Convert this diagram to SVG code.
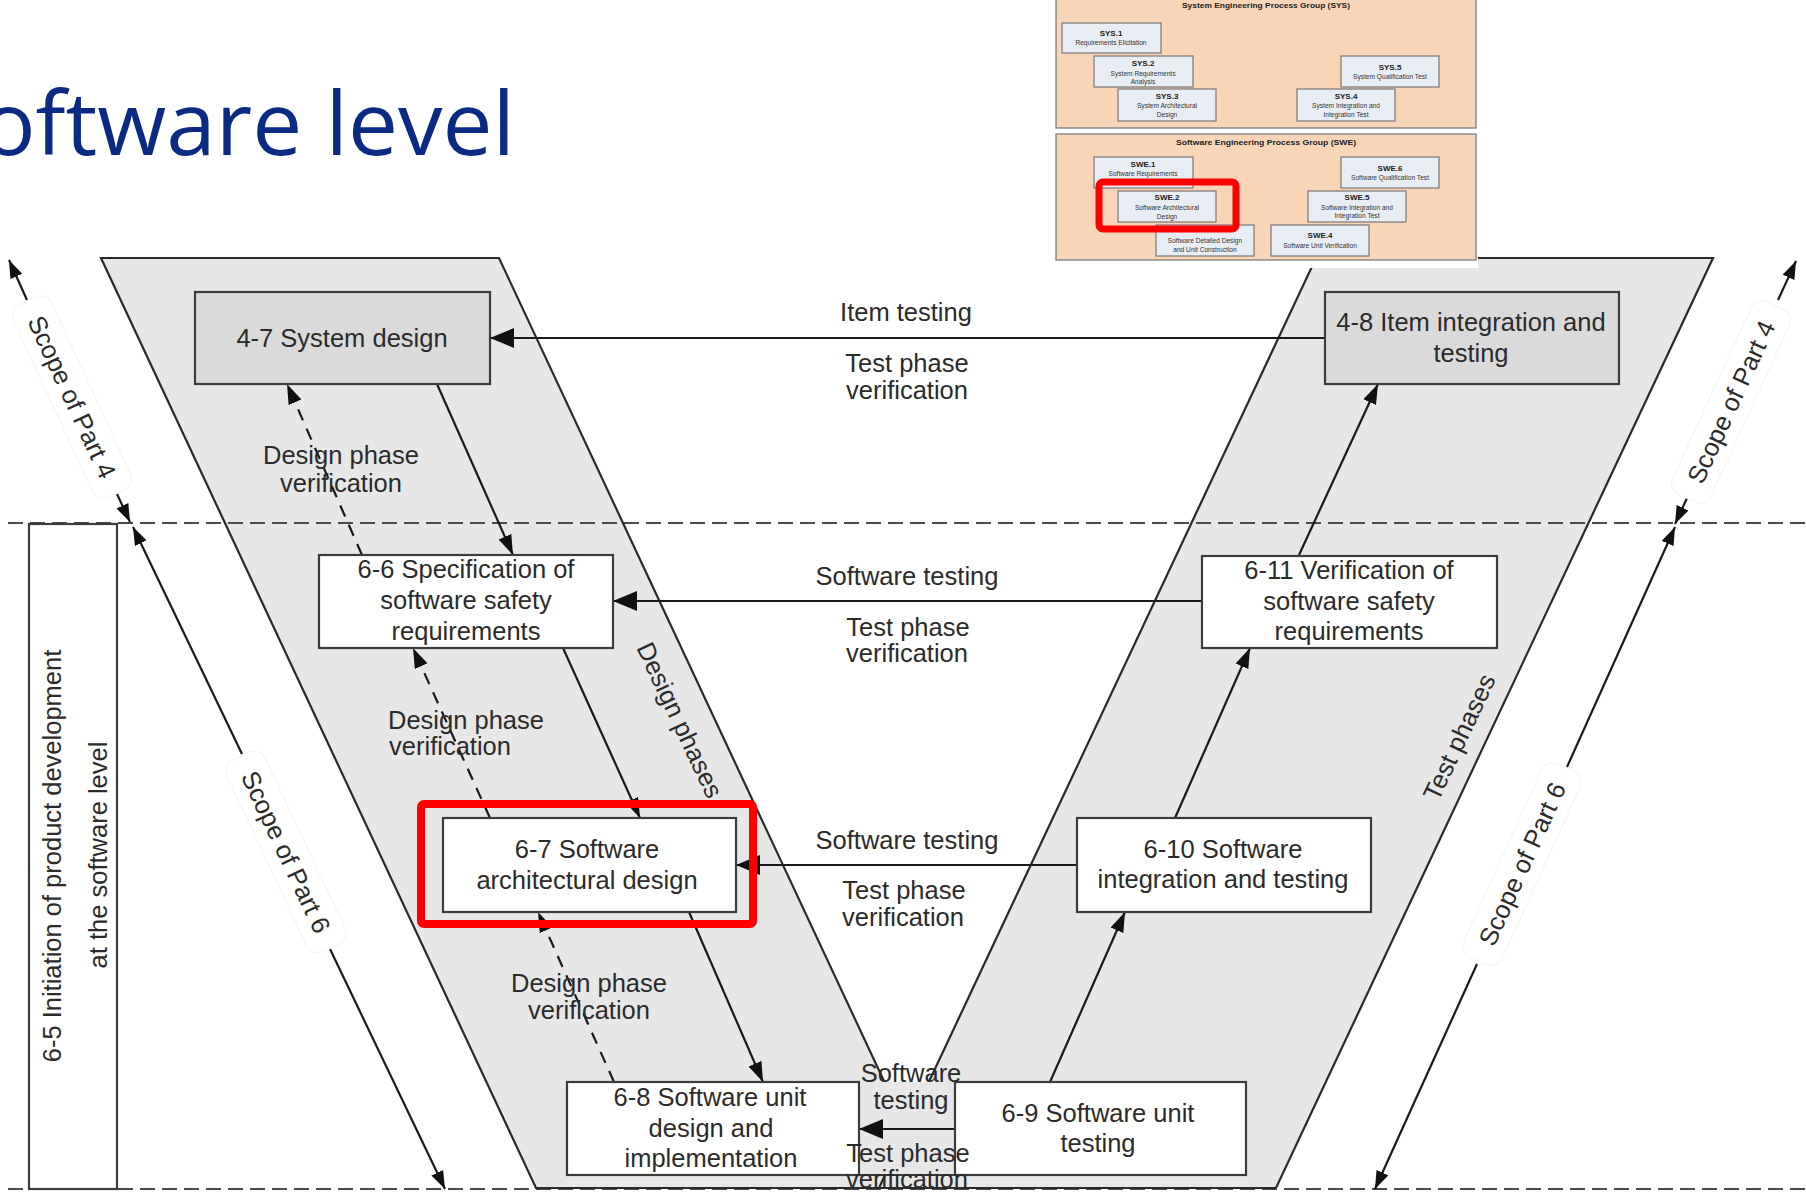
<svg xmlns="http://www.w3.org/2000/svg" width="1806" height="1193" viewBox="0 0 1806 1193">
<defs>
<style>
.t{font-family:"Liberation Sans",Arial,sans-serif;font-size:25.5px;fill:#2b2b2b;text-anchor:middle}
.band{fill:#e7e7e7;stroke:#2a2a2a;stroke-width:2.2;stroke-linejoin:miter}
.box{fill:#ffffff;stroke:#3c3c3c;stroke-width:2.2}
.gbox{fill:#dadada;stroke:#3c3c3c;stroke-width:2.2}
.dash{fill:none;stroke:#4a4a4a;stroke-width:2;stroke-dasharray:15 7}
.ln{fill:none;stroke:#1a1a1a;stroke-width:2.2}
.dl{fill:none;stroke:#1a1a1a;stroke-width:2.2;stroke-dasharray:12 9}
.sc{fill:none;stroke:#1a1a1a;stroke-width:2.2}
.scbg{fill:#ffffff;stroke:#f4f4f4;stroke-width:1.2}
.red{fill:none;stroke:#ff0000;stroke-width:8}
.pe{fill:#f9d5b7;stroke:#7a7a7a;stroke-width:1.3}
.sb{fill:#e8ecf3;stroke:#6e6e6e;stroke-width:1.1}
.it{font-family:"Liberation Sans",Arial,sans-serif;font-size:6.6px;fill:#333;text-anchor:middle}
.ib{font-family:"Liberation Sans",Arial,sans-serif;font-size:8px;font-weight:bold;fill:#222;text-anchor:middle}
</style>
<marker id="big" viewBox="0 0 24 20" refX="24" refY="10" markerWidth="24" markerHeight="20" markerUnits="userSpaceOnUse" orient="auto">
<path d="M0,0 L24,10 L0,20 Z" fill="#111"/>
</marker>
<marker id="med" viewBox="0 0 20 14" refX="20" refY="7" markerWidth="20" markerHeight="14" markerUnits="userSpaceOnUse" orient="auto">
<path d="M0,0 L20,7 L0,14 Z" fill="#111"/>
</marker>
<marker id="sm" viewBox="0 0 18 13" refX="18" refY="6.5" markerWidth="18" markerHeight="13" markerUnits="userSpaceOnUse" orient="auto-start-reverse">
<path d="M0,0 L18,6.5 L0,13 Z" fill="#111"/>
</marker>
</defs>
<rect x="0" y="0" width="1806" height="1193" fill="#ffffff"/>

<text x="-18" y="155" font-family="'Open Sans','Noto Sans',sans-serif" font-size="87" fill="#0b2a84" textLength="533" lengthAdjust="spacingAndGlyphs">oftware level</text>

<g id="bands">
<polygon class="band" points="101,258 499,258 934,1188 536,1188"/>
<polygon class="band" points="1316,258 1713,258 1276,1188 879,1188"/>
<rect x="859" y="1082" width="96" height="93" fill="#e7e7e7"/>
</g>

<g id="guides">
<line class="dash" x1="8" y1="523" x2="1806" y2="523"/>
<line class="dash" x1="8" y1="1189" x2="1806" y2="1189"/>
<line x1="536" y1="1188" x2="1276" y2="1188" stroke="#2a2a2a" stroke-width="2.2"/>
<line x1="859" y1="1175" x2="955" y2="1175" stroke="#3c3c3c" stroke-width="2.2"/>
<text class="t" transform="translate(680,720) rotate(64.8)" x="0" y="9">Design phases</text>
<text class="t" transform="translate(1459,737) rotate(-64.8)" x="0" y="9">Test phases</text>
</g>

<g id="n65">
<rect x="29" y="524" width="88" height="665" fill="#ffffff" stroke="#3c3c3c" stroke-width="2.2"/>
<text class="t" transform="translate(61,856) rotate(-90)" x="0" y="0">6-5 Initiation of product development</text>
<text class="t" transform="translate(107,855) rotate(-90)" x="0" y="0">at the software level</text>
</g>

<g id="connectors">
<path class="ln" d="M1325,338 L490,338" marker-end="url(#big)"/>
<path class="ln" d="M1202,601 L613,601" marker-end="url(#big)"/>
<path class="ln" d="M1077,865 L736,865" marker-end="url(#big)"/>
<path class="ln" d="M954,1129 L859,1129" marker-end="url(#big)"/>
<path class="ln" d="M437,384 L513,555" marker-end="url(#med)"/>
<path class="ln" d="M563,648 L640,818" marker-end="url(#med)"/>
<path class="ln" d="M689,912 L763,1082" marker-end="url(#med)"/>
<path class="ln" d="M1050,1082 L1125,912" marker-end="url(#med)"/>
<path class="ln" d="M1175,818 L1250,648" marker-end="url(#med)"/>
<path class="ln" d="M1299,555 L1378,384" marker-end="url(#med)"/>
<path class="dl" d="M362,555 L287,384" marker-end="url(#med)"/>
<path class="dl" d="M490,818 L413,648" marker-end="url(#med)"/>
<path class="dl" d="M614,1082 L538,912" marker-end="url(#med)"/>
</g>

<g id="labels">
<text class="t" x="906" y="321">Item testing</text>
<text class="t" x="907" y="372">Test phase</text>
<text class="t" x="907" y="399">verification</text>
<text class="t" x="907" y="585">Software testing</text>
<text class="t" x="908" y="636">Test phase</text>
<text class="t" x="907" y="662">verification</text>
<text class="t" x="907" y="849">Software testing</text>
<text class="t" x="904" y="899">Test phase</text>
<text class="t" x="903" y="926">verification</text>
<text class="t" x="341" y="464">Design phase</text>
<text class="t" x="341" y="492">verification</text>
<text class="t" x="466" y="729">Design phase</text>
<text class="t" x="450" y="755">verification</text>
<text class="t" x="589" y="992">Design phase</text>
<text class="t" x="589" y="1019">verification</text>
</g>

<g id="scope">
<line class="sc" x1="9" y1="260" x2="27" y2="300" marker-start="url(#sm)"/>
<line class="sc" x1="117" y1="494" x2="130" y2="522" marker-end="url(#sm)"/>
<g transform="translate(72,397) rotate(65.2)"><rect class="scbg" x="-106" y="-21" width="212" height="42" rx="12"/><text class="t" x="0" y="9">Scope of Part 4</text></g>

<line class="sc" x1="1796" y1="261" x2="1778" y2="300" marker-start="url(#sm)"/>
<line class="sc" x1="1688" y1="496" x2="1675" y2="524" marker-end="url(#sm)"/>
<g transform="translate(1731,402) rotate(-65.3)"><rect class="scbg" x="-106" y="-21" width="212" height="42" rx="12"/><text class="t" x="0" y="9">Scope of Part 4</text></g>

<line class="sc" x1="133" y1="527" x2="242" y2="754" marker-start="url(#sm)"/>
<line class="sc" x1="330" y1="949" x2="445" y2="1189" marker-end="url(#sm)"/>
<g transform="translate(286,852) rotate(64.8)"><rect class="scbg" x="-106" y="-21" width="212" height="42" rx="12"/><text class="t" x="0" y="9">Scope of Part 6</text></g>

<line class="sc" x1="1675" y1="527" x2="1567" y2="767" marker-start="url(#sm)"/>
<line class="sc" x1="1477" y1="964" x2="1375" y2="1189" marker-end="url(#sm)"/>
<g transform="translate(1522,864) rotate(-65.6)"><rect class="scbg" x="-106" y="-21" width="212" height="42" rx="12"/><text class="t" x="0" y="9">Scope of Part 6</text></g>
</g>

<g id="n47"><rect class="gbox" x="195" y="292" width="295" height="92"/><text class="t" x="342" y="347">4-7 System design</text></g>
<g id="n48"><rect class="gbox" x="1325" y="292" width="294" height="92"/><text class="t" x="1471" y="331">4-8 Item integration and</text><text class="t" x="1471" y="362">testing</text></g>
<g id="n66"><rect class="box" x="319" y="555" width="294" height="93"/><text class="t" x="466" y="578">6-6 Specification of</text><text class="t" x="466" y="609">software safety</text><text class="t" x="466" y="640">requirements</text></g>
<g id="n611"><rect class="box" x="1202" y="556" width="295" height="92"/><text class="t" x="1349" y="579">6-11 Verification of</text><text class="t" x="1349" y="610">software safety</text><text class="t" x="1349" y="640">requirements</text></g>
<g id="n67"><rect class="box" x="443" y="818" width="293" height="94"/><text class="t" x="587" y="858">6-7 Software</text><text class="t" x="587" y="889">architectural design</text></g>
<g id="n610"><rect class="box" x="1077" y="818" width="294" height="94"/><text class="t" x="1223" y="858">6-10 Software</text><text class="t" x="1223" y="888">integration and testing</text></g>
<g id="n68"><rect class="box" x="567" y="1082" width="292" height="93"/><text class="t" x="710" y="1106">6-8 Software unit</text><text class="t" x="711" y="1137">design and</text><text class="t" x="711" y="1167">implementation</text></g>
<g id="n69"><rect class="box" x="955" y="1082" width="291" height="93"/><text class="t" x="1098" y="1122">6-9 Software unit</text><text class="t" x="1098" y="1152">testing</text></g>

<g id="l4labels">
<text class="t" x="911" y="1082">Software</text>
<text class="t" x="911" y="1109">testing</text>
<text class="t" x="908" y="1162">Test phase</text>
<text class="t" x="907" y="1188">verification</text>
</g>

<rect id="hl" class="red" x="421" y="804" width="332" height="120" rx="3"/>

<g id="inset">
<rect x="1050" y="0" width="428" height="268" fill="#ffffff"/>
<rect class="pe" x="1056" y="-2" width="420" height="130"/>
<text class="ib" x="1266" y="8" textLength="168" lengthAdjust="spacingAndGlyphs">System Engineering Process Group (SYS)</text>
<g id="sys1"><rect class="sb" x="1062" y="23" width="99" height="30"/><text class="ib" x="1111" y="36">SYS.1</text><text class="it" x="1111" y="44.5">Requirements Elicitation</text></g>
<g id="sys2"><rect class="sb" x="1094" y="56" width="99" height="31"/><text class="ib" x="1143" y="66">SYS.2</text><text class="it" x="1143" y="75.5">System Requirements</text><text class="it" x="1143" y="83.5">Analysis</text></g>
<g id="sys3"><rect class="sb" x="1118" y="89" width="98" height="32"/><text class="ib" x="1167" y="99">SYS.3</text><text class="it" x="1167" y="107.5">System Architectural</text><text class="it" x="1167" y="116.5">Design</text></g>
<g id="sys5"><rect class="sb" x="1341" y="56" width="98" height="31"/><text class="ib" x="1390" y="70">SYS.5</text><text class="it" x="1390" y="78.5">System Qualification Test</text></g>
<g id="sys4"><rect class="sb" x="1297" y="89" width="98" height="32"/><text class="ib" x="1346" y="99">SYS.4</text><text class="it" x="1346" y="107.5">System Integration and</text><text class="it" x="1346" y="116.5">Integration Test</text></g>
<rect class="pe" x="1056" y="134" width="420" height="126"/>
<text class="ib" x="1266" y="145" textLength="180" lengthAdjust="spacingAndGlyphs">Software Engineering Process Group (SWE)</text>
<g id="swe1"><rect class="sb" x="1094" y="157" width="99" height="31"/><text class="ib" x="1143" y="167">SWE.1</text><text class="it" x="1143" y="175.5">Software Requirements</text></g>
<g id="swe2"><rect class="sb" x="1118" y="191" width="98" height="31"/><text class="ib" x="1167" y="200">SWE.2</text><text class="it" x="1167" y="209.5">Software Architectural</text><text class="it" x="1167" y="218.5">Design</text></g>
<g id="swe3"><rect class="sb" x="1156" y="225" width="98" height="31"/><text class="it" x="1205" y="242.5">Software Detailed Design</text><text class="it" x="1205" y="251.5">and Unit Construction</text></g>
<g id="swe6"><rect class="sb" x="1341" y="157" width="98" height="31"/><text class="ib" x="1390" y="171">SWE.6</text><text class="it" x="1390" y="179.5">Software Qualification Test</text></g>
<g id="swe5"><rect class="sb" x="1308" y="191" width="98" height="31"/><text class="ib" x="1357" y="200">SWE.5</text><text class="it" x="1357" y="209.5">Software Integration and</text><text class="it" x="1357" y="217.5">Integration Test</text></g>
<g id="swe4"><rect class="sb" x="1271" y="225" width="98" height="31"/><text class="ib" x="1320" y="238">SWE.4</text><text class="it" x="1320" y="247.5">Software Unit Verification</text></g>
<rect class="red" x="1099" y="182" width="137" height="47" rx="4" style="stroke-width:7"/>
</g>
</svg>
